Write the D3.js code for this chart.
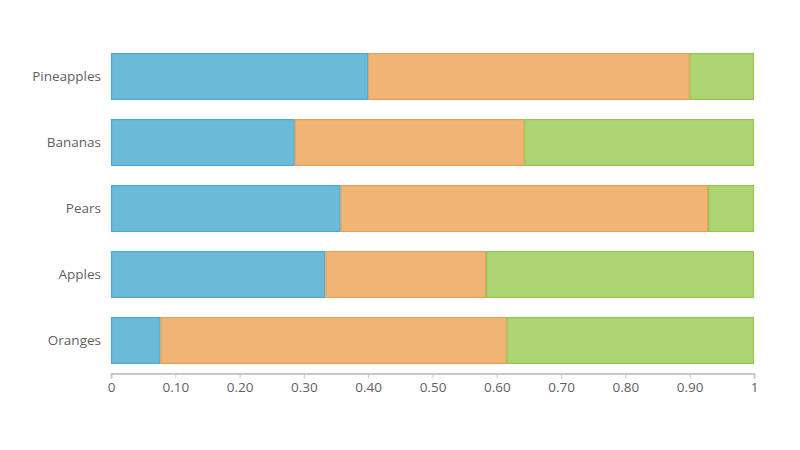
<!DOCTYPE html>
<html lang="en">
  <head>
    <meta charset="UTF-8" />
    <script src="https://d3js.org/d3.v7.min.js"></script>
    <title>Stacked 100% Bar</title>
    <style type="text/css">
      body {
        margin: 0;
        background: #fff;
      }
      .tick text {
        fill: #5f5f5f;
        font-size: 13.5px;
        font-family: 'Open Sans', sans-serif;
      }
    </style>
  </head>
  <body>
    <svg width="800" height="450"></svg>
  </body>
  <script type="text/javascript">
    // raw values, drawn as share of each row total
    const fruits = ['Pineapples', 'Bananas', 'Pears', 'Apples', 'Oranges'];
    const seriesA = [4, 4, 5, 4, 1];
    const seriesB = [5, 5, 8, 3, 7];
    const seriesC = [1, 5, 1, 5, 5];
    const xTicks = [0, 0.1, 0.2, 0.3, 0.4, 0.5, 0.6, 0.7, 0.8, 0.9, 1];

    const fills = ['#6bbad8', '#f0b574', '#acd472'];
    const strokes = ['#4ea8d0', '#eaa058', '#93c64e'];

    const rows = fruits.map((name, i) => ({ name, a: seriesA[i], b: seriesB[i], c: seriesC[i] }));
    const stacked = d3.stack().keys(['a', 'b', 'c']).offset(d3.stackOffsetExpand)(rows);

    const svg = d3.select('svg');

    const xScale = d3.scaleLinear().domain([0, 1]).range([111, 754]);
    const yScale = d3.scaleBand().domain(fruits).range([43.5, 373.5]).paddingInner(0.29).paddingOuter(0.145);

    // bars
    stacked.forEach((layer, k) => {
      svg
        .append('g')
        .selectAll('rect')
        .data(layer)
        .enter()
        .append('rect')
        .attr('x', (d) => xScale(d[0]) + 0.5)
        .attr('y', (d) => yScale(d.data.name) + 0.5)
        .attr('width', (d) => xScale(d[1]) - xScale(d[0]) - 1)
        .attr('height', yScale.bandwidth() - 1)
        .attr('fill', fills[k])
        .attr('stroke', strokes[k])
        .attr('stroke-width', 1.2);
    });

    // x axis
    const xAxis = svg
      .append('g')
      .attr('transform', 'translate(0, 373.5)')
      .call(
        d3
          .axisBottom(xScale)
          .tickValues(xTicks)
          .tickSizeOuter(0)
          .tickSize(5)
          .tickPadding(4)
          .tickFormat((d) => (d === 0 || d === 1 ? d : d3.format('.2f')(d)))
      );
    xAxis.select('.domain').attr('stroke', '#c8c8c8').attr('stroke-width', 2);
    xAxis.selectAll('.tick line').attr('stroke', '#c8c8c8');

    // y axis labels only
    const yAxis = svg
      .append('g')
      .attr('transform', 'translate(111, 0)')
      .call(d3.axisLeft(yScale).tickSize(0).tickPadding(10));
    yAxis.select('.domain').remove();
  </script>
</html>
